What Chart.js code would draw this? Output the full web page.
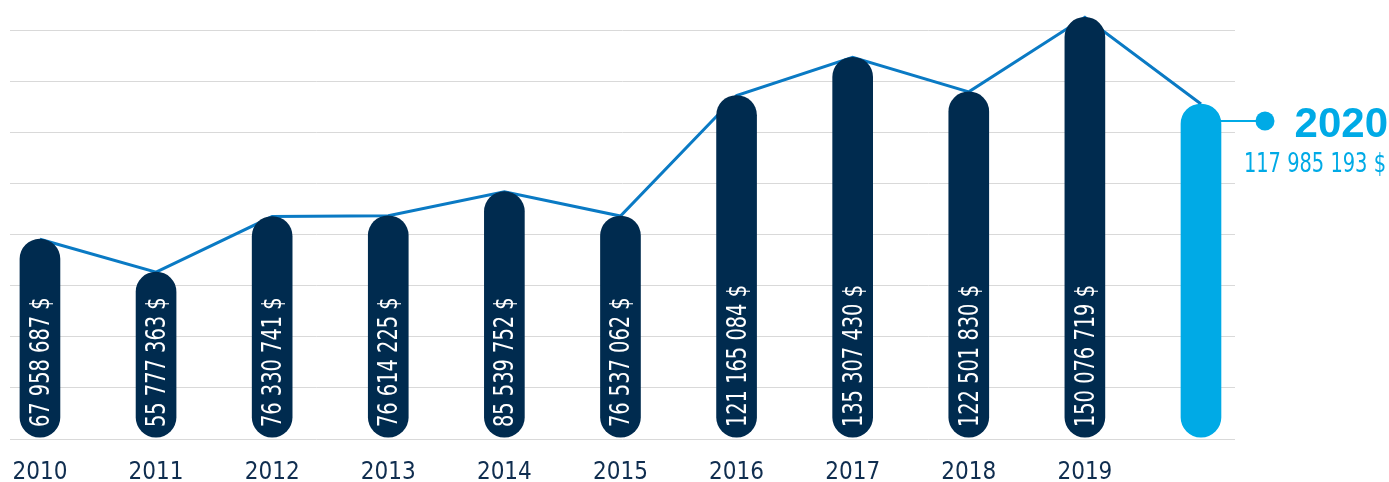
<!DOCTYPE html>
<html>
<head>
<meta charset="utf-8">
<script src="https://cdn.jsdelivr.net/npm/chart.js@4.4.1/dist/chart.umd.min.js"></script>
<style>
  html, body { margin: 0; padding: 0; background: #fff; }
  #wrap { width: 1389px; height: 482px; }
</style>
</head>
<body>
<div id="wrap"><canvas id="chart"></canvas></div>
<script>
const years = [2010, 2011, 2012, 2013, 2014, 2015, 2016, 2017, 2018, 2019, 2020];
const amounts = [67958687, 55777363, 76330741, 76614225, 85539752, 76537062, 121165084, 135307430, 122501830, 150076719, 117985193];
const yearTicks = [2010, 2011, 2012, 2013, 2014, 2015, 2016, 2017, 2018, 2019];
const gridValues = [-6000000, 12900000, 31800000, 50700000, 69600000, 88500000, 107400000, 126300000, 145200000];

const FONT = "'Liberation Sans Narrow', 'DejaVu Sans Condensed', Roboto, sans-serif";
const NAVY = '#002b4f';
const HIGHLIGHT = '#00aae6';
const LINE_BLUE = '#0a7ac4';

function fmt(v) {
    return String(v).replace(/\B(?=(\d{3})+(?!\d))/g, ' ') + ' $';
}

const lastIdx = years.length - 1;
const points = years.map((yr, i) => ({ x: yr, y: amounts[i] }));

// labels inside the bars + the 2020 callout on the right
const labelPlugin = {
    id: 'barLabels',
    afterDatasetsDraw(chart) {
        const ctx = chart.ctx;
        const meta = chart.getDatasetMeta(0);
        ctx.save();
        ctx.font = '27px ' + FONT;
        ctx.fillStyle = '#ffffff';
        ctx.textAlign = 'left';
        ctx.textBaseline = 'middle';
        meta.data.forEach((bar, i) => {
            if (i === lastIdx) return;
            ctx.save();
            ctx.translate(bar.x + 2, bar.base - 10);
            ctx.rotate(-Math.PI / 2);
            ctx.scale(0.8, 1); // squeeze to look like the condensed face
            ctx.fillText(fmt(amounts[i]), 0, 0);
            ctx.restore();
        });

        const last = meta.data[lastIdx];
        const cy = last.y + 17;
        const cx = last.x + 64;
        ctx.strokeStyle = HIGHLIGHT;
        ctx.lineWidth = 2;
        ctx.beginPath();
        ctx.moveTo(last.x + 20, cy);
        ctx.lineTo(cx, cy);
        ctx.stroke();
        ctx.fillStyle = HIGHLIGHT;
        ctx.beginPath();
        ctx.arc(cx, cy, 9.5, 0, Math.PI * 2);
        ctx.fill();

        ctx.textAlign = 'right';
        ctx.textBaseline = 'alphabetic';
        ctx.font = "bold 42px 'Liberation Sans', Arial, sans-serif";
        ctx.fillText(String(years[lastIdx]), chart.width - 1, cy + 16);
        ctx.save();
        ctx.translate(chart.width - 3, cy + 51);
        ctx.scale(0.8, 1);
        ctx.font = '27px ' + FONT;
        ctx.fillText(fmt(amounts[lastIdx]), 0, 0);
        ctx.restore();
        ctx.restore();
    }
};

const ctx = document.getElementById('chart').getContext('2d');
const chart = new Chart(ctx, {
    type: 'bar',
    data: {
        datasets: [{
            type: 'bar',
            data: points,
            base: -5300000,
            backgroundColor: years.map((y, i) => i === lastIdx ? HIGHLIGHT : NAVY),
            barThickness: 40,
            borderRadius: 20,
            borderSkipped: false,
            order: 0
        }, {
            type: 'line',
            data: points,
            borderColor: LINE_BLUE,
            borderWidth: 3,
            pointRadius: 0,
            tension: 0,
            order: 1
        }]
    },
    options: {
        responsive: true,
        maintainAspectRatio: false,
        animation: false,
        layout: { padding: { left: 10, right: 154, top: 0, bottom: 0 } },
        plugins: {
            legend: { display: false },
            tooltip: { enabled: false }
        },
        scales: {
            x: {
                type: 'linear',
                offset: false,
                min: 2009.742,
                max: 2020.293,
                grid: { display: false, drawTicks: false },
                border: { display: false },
                afterBuildTicks: (scale) => {
                    scale.ticks = yearTicks.map(v => ({ value: v }));
                },
                afterFit: (scale) => {
                    scale.height = 43;
                    scale.paddingLeft = 0;
                    scale.paddingRight = 0;
                },
                ticks: {
                    padding: 22,
                    color: '#0f2d4f',
                    font: { family: FONT, size: 24, lineHeight: 1 },
                    maxRotation: 0,
                    autoSkip: false,
                    callback: (v) => String(v)
                }
            },
            y: {
                min: -6000000,
                max: 156500000,
                grid: { color: '#d9d9d9', lineWidth: 1, drawTicks: false },
                border: { display: false },
                afterBuildTicks: (scale) => {
                    scale.ticks = gridValues.map(v => ({ value: v }));
                },
                afterFit: (scale) => { scale.width = 0; },
                ticks: { display: false }
            }
        }
    },
    plugins: [labelPlugin]
});
</script>
</body>
</html>
